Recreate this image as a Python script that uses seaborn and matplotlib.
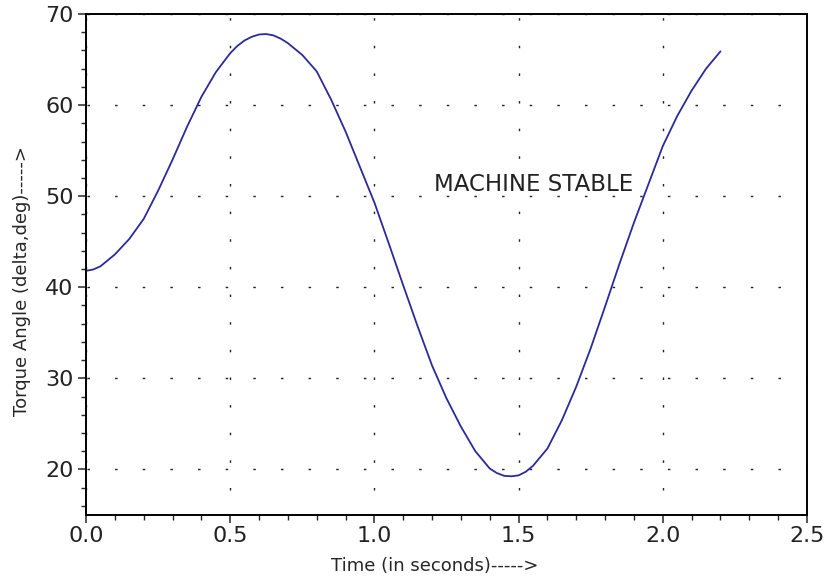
import matplotlib
matplotlib.use("Agg")
import matplotlib.pyplot as plt
import seaborn as sns
import pandas as pd
from matplotlib.ticker import MultipleLocator

# swing curve (time in s, torque angle in deg)
time_s = [0.000, 0.025, 0.050, 0.100, 0.150, 0.200, 0.250, 0.300, 0.350, 0.400,
          0.450, 0.500, 0.525, 0.550, 0.575, 0.600, 0.625, 0.650, 0.675, 0.700,
          0.750, 0.800, 0.850, 0.900, 0.950, 1.000, 1.050, 1.100, 1.150, 1.200,
          1.250, 1.300, 1.350, 1.400, 1.425, 1.450, 1.475, 1.500, 1.525, 1.550,
          1.600, 1.650, 1.700, 1.750, 1.800, 1.850, 1.900, 1.950, 2.000, 2.050,
          2.100, 2.150, 2.200]
delta_deg = [41.8, 41.95, 42.3, 43.6, 45.3, 47.5, 50.6, 54.0, 57.6, 60.9,
             63.6, 65.7, 66.5, 67.1, 67.5, 67.75, 67.8, 67.65, 67.3, 66.8,
             65.5, 63.7, 60.6, 57.1, 53.2, 49.3, 44.8, 40.2, 35.7, 31.4,
             27.8, 24.7, 22.0, 20.1, 19.6, 19.3, 19.25, 19.35, 19.75, 20.4,
             22.3, 25.4, 29.1, 33.3, 37.9, 42.6, 47.1, 51.3, 55.5, 58.8,
             61.6, 64.0, 65.9]

x_ticks = [0.0, 0.5, 1.0, 1.5, 2.0, 2.5]
y_ticks = [20, 30, 40, 50, 60, 70]

df = pd.DataFrame({"t": time_s, "delta": delta_deg})

sns.set_style("white")
plt.rcParams["font.family"] = ["DejaVu Sans"]

fig = plt.figure(figsize=(8.25, 5.81), dpi=100)
ax = fig.add_axes([86 / 825, 1 - 515 / 581, (807 - 86) / 825, (515 - 14) / 581])

sns.lineplot(data=df, x="t", y="delta", ax=ax, color="#2a2a9c", linewidth=1.3)
ax.lines[0].set_solid_joinstyle("round")

ax.set_xlim(0, 2.5)
ax.set_ylim(15, 70)
ax.set_xticks(x_ticks)
ax.set_yticks(y_ticks)
ax.set_xticklabels([f"{v:.1f}" for v in x_ticks])
ax.xaxis.set_minor_locator(MultipleLocator(0.1))
ax.yaxis.set_minor_locator(MultipleLocator(2))

ax.tick_params(which="major", direction="out", length=6, width=1.1, labelsize=16,
               labelcolor="#222222", pad=2, bottom=True, left=True)
ax.tick_params(which="minor", direction="out", length=3.5, width=1.0, bottom=True, left=True)
ax.tick_params(axis="y", which="major", pad=3)

for sp in ax.spines.values():
    sp.set_color("black")
    sp.set_linewidth(1.4)

# sparse dotted grid like the original
ax.xaxis.grid(True, which="major", color="#222222", linewidth=1.0, linestyle=(1.9, (1.8, 18.1)))
ax.yaxis.grid(True, which="major", color="#222222", linewidth=1.0, linestyle=(19.2, (1.8, 18.1)))

ax.text(1.207, 51.3, "MACHINE STABLE", fontsize=16.5, color="#222222", va="center", ha="left")

ax.set_xlabel("Time (in seconds)----->", fontsize=13, labelpad=8)
ax.set_ylabel("Torque Angle (delta,deg)----->", fontsize=13, labelpad=10)
ax.xaxis.label.set_x(0.484)
ax.yaxis.label.set_y(0.467)

fig.savefig("out.png", dpi=100)
